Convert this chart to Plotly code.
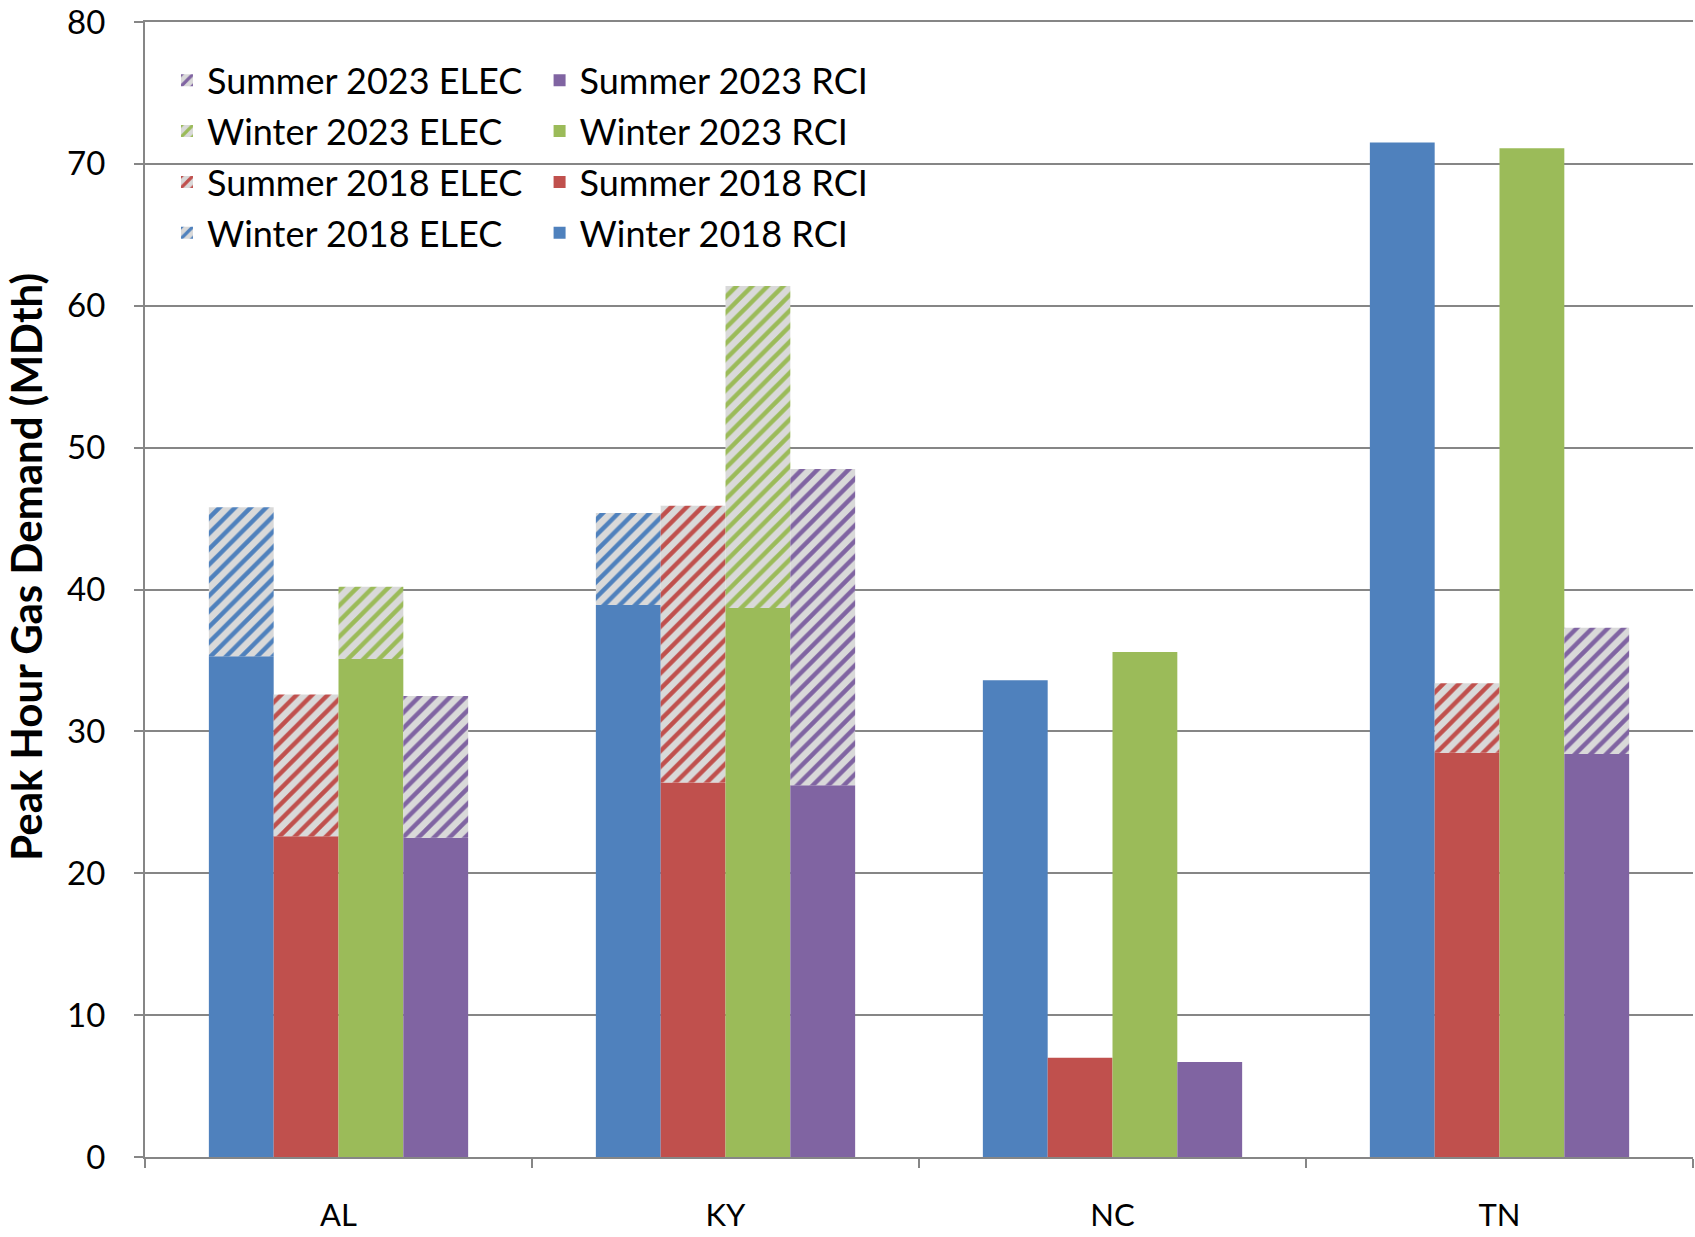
import plotly.graph_objects as go

states = ["AL", "KY", "NC", "TN"]

# RCI (solid) and ELEC (hatched, stacked on top) values, MDth
w18_rci = [35.3, 38.9, 33.6, 71.5]
w18_elec = [10.5, 6.5, 0, 0]
s18_rci = [22.6, 26.4, 7.0, 28.5]
s18_elec = [10.0, 19.5, 0, 4.9]
w23_rci = [35.1, 38.7, 35.6, 71.1]
w23_elec = [5.1, 22.7, 0, 0]
s23_rci = [22.5, 26.2, 6.7, 28.4]
s23_elec = [10.0, 22.3, 0, 8.9]

series = [
    ("Winter 2018", "#4F81BD", w18_rci, w18_elec),
    ("Summer 2018", "#C0504D", s18_rci, s18_elec),
    ("Winter 2023", "#9BBB59", w23_rci, w23_elec),
    ("Summer 2023", "#8064A2", s23_rci, s23_elec),
]

FONT = "Lato"

fig = go.Figure()
for i, (name, col, rci, elec) in enumerate(series):
    fig.add_trace(go.Bar(
        x=states, y=rci, name=name + " RCI", offsetgroup=name,
        marker=dict(color=col, line=dict(width=0)),
        legend="legend2", legendgroup=name + "r", legendrank=10 - i,
    ))
    fig.add_trace(go.Bar(
        x=states, y=elec, base=rci, name=name + " ELEC", offsetgroup=name,
        marker=dict(color="#D9D9D9", line=dict(width=0),
                    pattern=dict(shape="/", fgcolor=col, bgcolor="#D9D9D9",
                                 size=11, solidity=0.4, fillmode="replace")),
        legend="legend", legendgroup=name + "e", legendrank=10 - i,
    ))

fig.update_layout(
    width=1695, height=1237,
    paper_bgcolor="white", plot_bgcolor="white",
    font=dict(family=FONT, size=31, color="black"),
    barmode="group", bargap=0.33, bargroupgap=0,
    margin=dict(l=145, r=2, t=22, b=80),
    legend=dict(x=0.0142, y=0.975, xanchor="left", yanchor="top",
                bgcolor="rgba(0,0,0,0)", tracegroupgap=1,
                font=dict(size=36)),
    legend2=dict(x=0.2549, y=0.975, xanchor="left", yanchor="top",
                 bgcolor="rgba(0,0,0,0)", tracegroupgap=1,
                 font=dict(size=36)),
    annotations=[dict(
        text="<b>Peak Hour Gas Demand (MDth)</b>", textangle=-90,
        xref="paper", yref="paper", x=0, y=0.52, xanchor="center", yanchor="middle",
        xshift=-119, showarrow=False, font=dict(size=42),
    )],
)
fig.update_xaxes(
    showline=True, linecolor="#868686", linewidth=2, mirror=True,
    ticks="outside", tickson="boundaries", ticklen=9, tickcolor="#868686", tickwidth=2,
    tickfont=dict(size=31), ticklabelstandoff=30, automargin=False,
)
fig.update_yaxes(
    range=[0, 80], dtick=10, showgrid=True, gridcolor="#868686", gridwidth=1.5,
    showline=True, linecolor="#868686", linewidth=2,
    ticks="outside", ticklen=9, tickcolor="#868686", tickwidth=2,
    tickfont=dict(size=33), ticklabelstandoff=22, ticklabeloverflow="allow",
    zeroline=False, automargin=False,
)

# drop the page's default body margin so the figure fills the window exactly
fig.write_html("out.html", config={"displayModeBar": False},
               post_script="document.body.style.margin='0px';")
